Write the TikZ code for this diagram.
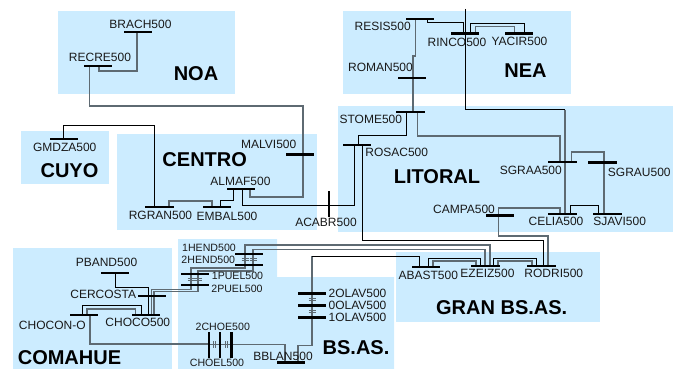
\documentclass[tikz,border=0pt]{standalone}
\usepackage{fontspec}
\setmainfont{Liberation Sans}
\definecolor{region}{HTML}{CCECFF}
\definecolor{wiregray}{HTML}{5E6A72}
\pgfdeclarelayer{regions}
\pgfdeclarelayer{wires}
\pgfsetlayers{regions,wires,main}
\tikzset{
  regionbox/.style={fill=region,draw=none},
  hbus/.style={fill=black,draw=none,rectangle,inner sep=0pt,minimum width=28.5pt,minimum height=2.5pt},
  vbus/.style={fill=black,draw=none,rectangle,inner sep=0pt,minimum width=2.5pt,minimum height=26pt},
  lab/.style={inner sep=0pt,text=black!90,font=\fontsize{12}{12}\selectfont},
  smalllab/.style={inner sep=0pt,text=black!90,font=\fontsize{10.6}{12}\selectfont},
  big/.style={inner sep=0pt,text=black,font=\fontsize{20}{20}\selectfont\bfseries},
  wire/.style={draw=black,line width=0.8pt},
  gwire/.style={draw=wiregray,line width=1.1pt},
  capmark/.style={draw=wiregray,line width=0.8pt}
}
\begin{document}
\begin{tikzpicture}[x=1pt,y=-1pt]
\useasboundingbox (0,0) rectangle (673,369);
\begin{pgfonlayer}{regions}
\fill[regionbox] (58,11) rectangle (235,94);
\fill[regionbox] (21,131) rectangle (109,184);
\fill[regionbox] (117,134) rectangle (317,230);
\fill[regionbox] (343,11) rectangle (571,94);
\fill[regionbox] (338,106) rectangle (673,232);
\fill[regionbox] (396,252) rectangle (600,322);
\fill[regionbox] (13,248) rectangle (172,369);
\fill[regionbox] (178,239) -- (277,239) -- (277,277) -- (394,277) -- (394,369) -- (178,369) -- cycle;
\end{pgfonlayer}
% buses
\node[hbus] (brach) at (138,32) {};
\node[hbus] (recre) at (98,66) {};
\node[hbus] (malvi) at (300,154.5) {};
\node[hbus] (gmdza) at (64,139) {};
\node[hbus] (rgran) at (159.5,207) {};
\node[hbus] (embal) at (217,207) {};
\node[hbus] (almaf) at (241,189) {};
\node[vbus] (acabr) at (329,203.5) {};
\node[hbus] (resis) at (420,19) {};
\node[hbus] (roman) at (412,78) {};
\node[hbus] (stome) at (410.5,112) {};
\node[hbus] (rosac) at (357,145) {};
\node[hbus] (rinco) at (465,33.3) {};
\node[hbus] (yacir) at (519,33.3) {};
\node[hbus] (sgraa) at (562.5,162) {};
\node[hbus] (sgrau) at (602.5,162.5) {};
\node[hbus] (celia) at (562.5,214) {};
\node[hbus] (sjavi) at (607.5,214) {};
\node[hbus] (campa) at (500,215.7) {};
\node[hbus] (abast) at (426,267) {};
\node[hbus] (ezeiz) at (485.5,266) {};
\node[hbus] (rodri) at (541.5,266) {};
\node[hbus] (pband) at (115,273) {};
\node[hbus] (cerco) at (152,296) {};
\node[hbus] (choco) at (146,315) {};
\node[hbus] (chocon) at (84,315) {};
\node[hbus] (hendA) at (249,254) {};
\node[hbus] (hendB) at (249,265) {};
\node[hbus] (puelA) at (195,274) {};
\node[hbus] (puelB) at (195,285) {};
\node[hbus] (olavA) at (312,293.3) {};
\node[hbus] (olavB) at (312,305.3) {};
\node[hbus] (olavC) at (312,317.3) {};
\node[vbus] (choeA) at (209,344.5) {};
\node[vbus] (choeB) at (220,344.5) {};
\node[vbus] (choeC) at (231.5,344.5) {};
\node[hbus] (bblan) at (291,362.7) {};
\coordinate (topend) at (465.3,9);
% wires
\begin{pgfonlayer}{wires}
\draw[gwire] ([xshift=-1pt]brach.center) -- (137,71) -- (99,71) -- ([xshift=1pt]recre.center);
\draw[gwire] ([xshift=-8.5pt]recre.center) -- (89.5,106) -- (303,106) -- (303,197) -- (250,197) -- ([xshift=9pt]almaf.center);
\draw[wire] ([xshift=-1pt]gmdza.center) -- (63,125.5) -- (154,125.5) -- ([xshift=-5.5pt]rgran.center);
\draw[gwire] ([xshift=9.5pt]rgran.center) -- (169,201) -- (212,201) -- ([xshift=-5pt]embal.center);
\draw[wire] ([xshift=3pt]embal.center) -- (220,200.5) -- (233,200.5) -- ([xshift=-8pt]almaf.center);
\draw[wire] ([xshift=1pt]almaf.center) -- (242,205.5) -- ([yshift=-2pt]acabr.center);
\draw[wire] ([yshift=-2pt]acabr.center) -- (354.5,205.5) -- ([xshift=-2.5pt]rosac.center);
\draw[wire] ([xshift=1pt]rosac.center) -- (358,135) -- (406,135) -- ([xshift=-4.5pt]stome.center);
\draw[wire] ([xshift=5pt]rosac.center) -- (362,240) -- (543,240) -- ([xshift=1.5pt]rodri.center);
\draw[gwire,line width=1.4pt] ([xshift=-4.5pt]resis.center) -- (415.5,56) -- (413,56) -- ([xshift=1pt]roman.center);
\draw[gwire,line width=1.4pt] ([xshift=1pt]roman.center) -- ([xshift=2.5pt]stome.center);
\draw[gwire] ([xshift=7pt]stome.center) -- (417.5,136) -- (560,136) -- ([xshift=-2.5pt]sgraa.center);
\draw[wire] ([xshift=7.5pt]resis.center) -- (427.5,22.7) -- (463.3,22.7) -- ([xshift=-1.7pt]rinco.center);
\draw[wire] ([xshift=5.7pt]rinco.center) -- (470.7,23.3) -- (524.3,23.3) -- ([xshift=5.3pt]yacir.center);
\draw[gwire] ([xshift=10.7pt]rinco.center) -- (475.7,26.7) -- (514.3,26.7) -- ([xshift=-4.7pt]yacir.center);
\draw[wire] (topend) -- (465.3,109.7) -- (565,109.7);
\draw[gwire,line width=1.4pt] (565,109.7) -- ([xshift=2.5pt]celia.center);
\draw[gwire] ([xshift=8.8pt]sgraa.center) -- (571.3,152) -- (604,152) -- ([xshift=1.5pt]sgrau.center);
\draw[gwire,line width=1.4pt] ([xshift=1.5pt]sgrau.center) -- (604,214) -- ([xshift=-3.5pt]sjavi.center);
\draw[gwire] ([xshift=-1.7pt]campa.center) -- (498.3,208) -- (560,208) -- ([xshift=-2.5pt]celia.center);
\draw[wire] ([xshift=8.2pt]celia.center) -- (570.7,205.3) -- (598.3,205.3) -- ([xshift=-9.2pt]sjavi.center);
\draw[gwire] ([xshift=-1.7pt]campa.center) -- (498.3,236) -- (548,236) -- ([xshift=6.5pt]rodri.center);
\draw[wire] ([xshift=2pt]abast.center) -- (428,258) -- (480,258) -- ([xshift=-5.5pt]ezeiz.center);
\draw[gwire] ([xshift=7pt]abast.center) -- (433,261) -- (476,261) -- ([xshift=-9.5pt]ezeiz.center);
\draw[wire] ([xshift=7.5pt]ezeiz.center) -- (493,258) -- (536,258) -- ([xshift=-5.5pt]rodri.center);
\draw[gwire] ([xshift=12.5pt]ezeiz.center) -- (498,261) -- (532,261) -- ([xshift=-9.5pt]rodri.center);
\draw[gwire] ([xshift=-4pt]hendA.center) -- (245,245) -- (490,245) -- ([xshift=4.5pt]ezeiz.center);
\draw[gwire] ([xshift=4pt]hendA.center) -- (253,249.3) -- (485,249.3) -- ([xshift=-0.5pt]ezeiz.center);
\draw[gwire] ([xshift=-4pt]hendA.center) -- ([xshift=-4pt]hendB.center) -- (245,268) -- (191,268) -- ([xshift=-4pt]puelA.center);
\draw[gwire] ([xshift=4pt]hendA.center) -- ([xshift=4pt]hendB.center) -- (253,271) -- (198,271) -- ([xshift=3pt]puelA.center);
\draw[gwire] ([xshift=-4pt]puelA.center) -- ([xshift=-4pt]puelB.center) -- (191,289.3) -- (151.7,289.3) -- ([xshift=5.7pt]choco.center);
\draw[gwire] ([xshift=3pt]puelA.center) -- ([xshift=3pt]puelB.center) -- (198,291.5) -- (154,291.5) -- ([xshift=8pt]choco.center);
\draw[wire] (pband.center) -- (115,287) -- (148,287) -- ([xshift=2pt]choco.center);
\draw[wire] ([xshift=-2pt]chocon.center) -- (82,305.7) -- (141.7,305.7) -- ([xshift=-4.3pt]choco.center);
\draw[gwire] ([xshift=3pt]chocon.center) -- (87,309) -- (135.7,309) -- ([xshift=-10.3pt]choco.center);
\draw[gwire] ([xshift=6pt]chocon.center) -- (90,344) -- (209,344) -- (choeA.center);
\draw[gwire] (choeA.center) -- (choeB.center) -- (choeC.center) -- (285,344.5) -- ([xshift=-6pt]bblan.center);
\draw[gwire] ([xshift=7pt]bblan.center) -- (298,345.7) -- (312,345.7) -- (312,256);
\draw[wire] (312,256) -- (419,256) -- ([xshift=-7pt]abast.center);
% series capacitor marks
\foreach \xx in {245,253}{
  \draw[capmark] (\xx-3.5,258.7) -- (\xx+3.5,258.7);
  \draw[capmark] (\xx-3.5,260.7) -- (\xx+3.5,260.7);
}
\foreach \xx in {191,198}{
  \draw[capmark] (\xx-3.5,278.7) -- (\xx+3.5,278.7);
  \draw[capmark] (\xx-3.5,280.7) -- (\xx+3.5,280.7);
}
\foreach \yy in {298.5,310.5}{
  \draw[capmark] (308.5,\yy) -- (315.5,\yy);
  \draw[capmark] (308.5,\yy+2) -- (315.5,\yy+2);
}
\foreach \xx in {213.5,225}{
  \draw[capmark] (\xx,341) -- (\xx,347.5);
  \draw[capmark] (\xx+2,341) -- (\xx+2,347.5);
}
\end{pgfonlayer}
% labels
\node[lab] (lbrach) at (140.5,24.7) {BRACH500};
\node[lab] (lrecre) at (100,57.7) {RECRE500};
\node[lab] (lgmdza) at (64.7,147.3) {GMDZA500};
\node[lab] (lmalvi) at (268.7,144.7) {MALVI500};
\node[lab] (lalmaf) at (240.5,181.7) {ALMAF500};
\node[lab] (lrgran) at (160.5,215) {RGRAN500};
\node[lab] (lembal) at (227,216.7) {EMBAL500};
\node[lab] (lacabr) at (326,222.7) {ACABR500};
\node[lab] (lresis) at (382.7,26.7) {RESIS500};
\node[lab] (lrinco) at (457,42.3) {RINCO500};
\node[lab] (lyacir) at (519.5,41.7) {YACIR500};
\node[lab] (lroman) at (380.5,67.7) {ROMAN500};
\node[lab] (lstome) at (370.8,119.3) {STOME500};
\node[lab] (lrosac) at (396.7,152.7) {ROSAC500};
\node[lab] (lsgraa) at (530.8,170.7) {SGRAA500};
\node[lab] (lsgrau) at (639.3,172.7) {SGRAU500};
\node[lab] (lcampa) at (464,209.3) {CAMPA500};
\node[lab] (lcelia) at (556,221.7) {CELIA500};
\node[lab] (lsjavi) at (619.7,221.7) {SJAVI500};
\node[lab] (lpband) at (106.5,262.7) {PBAND500};
\node[lab] (lcerco) at (103.3,294.3) {CERCOSTA};
\node[lab] (lchocon) at (52.3,325) {CHOCON-O};
\node[lab] (lchoco) at (137.8,322.7) {CHOCO500};
\node[smalllab] (lhenda) at (209,247.7) {1HEND500};
\node[smalllab] (lhendb) at (208.3,260) {2HEND500};
\node[smalllab] (lpuela) at (237.5,276) {1PUEL500};
\node[smalllab] (lpuelb) at (237,289) {2PUEL500};
\node[lab] (lolava) at (357.5,293.3) {2OLAV500};
\node[lab] (lolavb) at (357.5,305.3) {0OLAV500};
\node[lab] (lolavc) at (357.5,317.7) {1OLAV500};
\node[smalllab] (lchoea) at (222.8,326.7) {2CHOE500};
\node[smalllab] (lchoel) at (217,362.7) {CHOEL500};
\node[lab] (lbblan) at (283,356.7) {BBLAN500};
\node[lab] (labast) at (428.3,275.7) {ABAST500};
\node[lab] (lezeiz) at (487.5,273.3) {EZEIZ500};
\node[lab] (lrodri) at (553.8,273.3) {RODRI500};
\node[big] (tnoa) at (196,74) {NOA};
\node[big] (tcuyo) at (69.5,170.7) {CUYO};
\node[big] (tcentro) at (204.7,160) {CENTRO};
\node[big] (tnea) at (525.5,70.7) {NEA};
\node[big] (tlit) at (437,176.7) {LITORAL};
\node[big] (tcom) at (69.5,358) {COMAHUE};
\node[big] (tbsas) at (356,348) {BS.AS.};
\node[big] (tgran) at (501.7,307.3) {GRAN BS.AS.};
\end{tikzpicture}
\end{document}
